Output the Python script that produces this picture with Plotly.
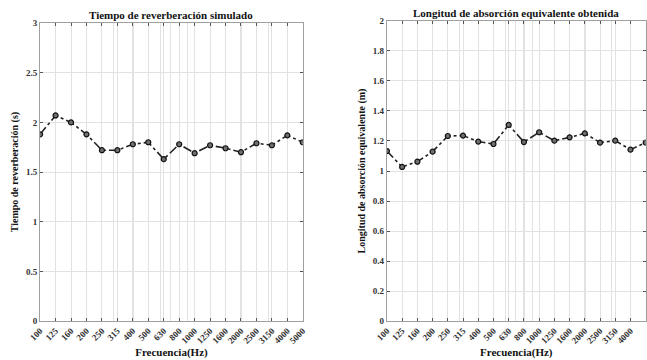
import plotly.graph_objects as go

freq_labels = ["100", "125", "160", "200", "250", "315", "400", "500", "630", "800",
               "1000", "1250", "1600", "2000", "2500", "3150", "4000", "5000"]
positions = list(range(1, len(freq_labels) + 1))
freq_values = [float(f) for f in freq_labels]

rt_sim = [1.88, 2.07, 2.00, 1.88, 1.72, 1.72, 1.78, 1.80, 1.63, 1.78,
          1.69, 1.77, 1.74, 1.70, 1.79, 1.77, 1.87, 1.80]
abs_len = [1.133, 1.027, 1.062, 1.129, 1.233, 1.236, 1.196, 1.180, 1.307, 1.193,
           1.258, 1.202, 1.224, 1.251, 1.189, 1.202, 1.142, 1.189]

left_yticks = [0, 0.5, 1, 1.5, 2, 2.5, 3]
right_yticks = [0, 0.2, 0.4, 0.6, 0.8, 1, 1.2, 1.4, 1.6, 1.8, 2]

FONT = "Liberation Serif, Times New Roman, serif"
GRID = "#e2e2e2"
AXLINE = "#a0a0a0"

fig = go.Figure()

line_style = dict(color="#222222", width=1.6, dash="dashdot")
marker_style = dict(symbol="circle", size=5, color="#707070",
                    line=dict(color="#111111", width=1.2))

# invisible helper traces so the log-grid overlay axes get drawn
for xa, ya in (("x3", "y"), ("x4", "y2")):
    fig.add_trace(go.Scatter(x=[freq_values[0], freq_values[-1]], y=[None, None],
                             mode="lines", xaxis=xa, yaxis=ya, showlegend=False,
                             hoverinfo="skip"))

fig.add_trace(go.Scatter(x=positions, y=rt_sim, mode="lines+markers",
                         line=line_style, marker=marker_style,
                         xaxis="x", yaxis="y", showlegend=False))
fig.add_trace(go.Scatter(x=positions, y=abs_len, mode="lines+markers",
                         line=line_style, marker=marker_style,
                         xaxis="x2", yaxis="y2", showlegend=False))

tickfont = dict(family=FONT, size=9, color="#333", weight="bold")
titlefont = dict(family=FONT, size=11, color="#111", weight="bold")

def xcat(domain, anchor):
    return dict(domain=domain, anchor=anchor, range=[1, 18], automargin=False,
                tickmode="array", tickvals=positions, ticktext=freq_labels,
                tickangle=-45, tickfont=tickfont,
                showgrid=True, gridcolor=GRID, gridwidth=1,
                showline=True, linecolor=AXLINE, linewidth=1, mirror="ticks",
                ticks="inside", ticklen=3, tickcolor="#555",
                zeroline=False, showspikes=False,
                title=dict(text="Frecuencia(Hz)", font=titlefont, standoff=1))

def xlog(overlay, anchor, domain):
    return dict(overlaying=overlay, anchor=anchor, domain=domain, type="log",
                range=[2, 3.69897], dtick="D1", showticklabels=False, automargin=False,
                showgrid=True, gridcolor=GRID, gridwidth=1, ticks="",
                showline=False, zeroline=False, side="bottom", showspikes=False)

def yax(domain, anchor, rng, tv, title):
    return dict(domain=domain, anchor=anchor, range=rng, automargin=False,
                tickmode="array", tickvals=tv, tickfont=tickfont,
                showgrid=True, gridcolor=GRID, gridwidth=1,
                showline=True, linecolor=AXLINE, linewidth=1, mirror="ticks",
                ticks="inside", ticklen=3, tickcolor="#555",
                zeroline=False, showspikes=False,
                title=dict(text=title, font=dict(family=FONT, size=10, color="#111", weight="bold"),
                           standoff=5))

dL = [0.062, 0.468]
dR = [0.598, 0.998]

fig.update_layout(
    width=647, height=360,
    margin=dict(l=0, r=0, t=0, b=0, autoexpand=False),
    paper_bgcolor="white", plot_bgcolor="white",
    hovermode=False,
    xaxis=xcat(dL, "y"),
    xaxis2=xcat(dR, "y2"),
    xaxis3=xlog("x", "y", dL),
    xaxis4=xlog("x2", "y2", dR),
    yaxis=yax([0.108, 0.936], "x", [0, 3], left_yticks, "Tiempo de reverberación (s)"),
    yaxis2=yax([0.108, 0.942], "x2", [0, 2], right_yticks, "Longitud de absorción equivalente (m)"),
    annotations=[
        dict(text="Tiempo de reverberación simulado", x=sum(dL) / 2, y=0.936,
             xref="paper", yref="paper", xanchor="center", yanchor="bottom",
             showarrow=False, font=dict(family=FONT, size=11, color="#111", weight="bold"), yshift=0),
        dict(text="Longitud de absorción equivalente obtenida", x=sum(dR) / 2, y=0.942,
             xref="paper", yref="paper", xanchor="center", yanchor="bottom",
             showarrow=False, font=dict(family=FONT, size=11, color="#111", weight="bold"), yshift=0),
    ],
)

fig.write_html("out.html",
               config={"displayModeBar": False, "staticPlot": True},
               post_script="document.body.style.margin='0';document.body.style.padding='0';document.body.style.overflow='hidden';")
